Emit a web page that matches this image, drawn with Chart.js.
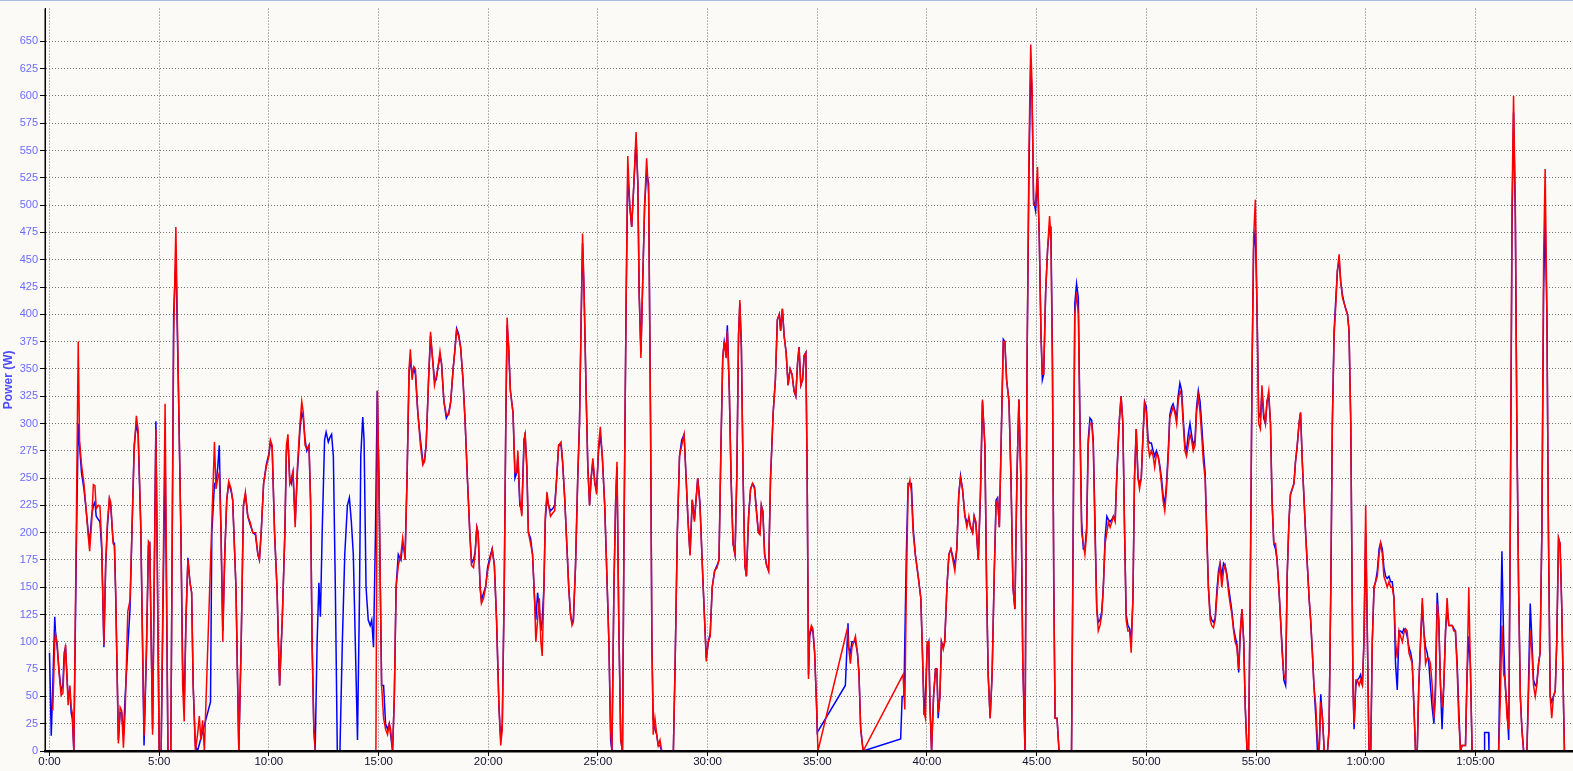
<!DOCTYPE html>
<html><head><meta charset="utf-8">
<script src="https://cdn.jsdelivr.net/npm/chart.js@4.4.1/dist/chart.umd.min.js"></script>
<style>
html,body{margin:0;padding:0;background:#FBFAF6;overflow:hidden;}
#wrap{position:relative;width:1573px;height:771px;}
#topline{position:absolute;left:0;top:0;width:1573px;height:1px;background:#A8BEDA;}
canvas{display:block;}
</style></head><body>
<div id="wrap"><canvas id="c" width="1573" height="771"></canvas><div id="topline"></div></div>
<script>
// elapsed time in minutes
const timeMin = [
0.00,0.08,0.15,0.24,0.27,0.35,0.43,0.53,0.61,0.67,
0.73,0.79,0.85,0.93,0.99,1.04,1.11,1.22,1.31,1.37,
1.46,1.57,1.65,1.77,1.83,1.92,2.00,2.07,2.13,2.23,
2.30,2.38,2.48,2.56,2.64,2.73,2.79,2.90,2.96,3.02,
3.14,3.22,3.29,3.37,3.45,3.57,3.67,3.86,3.96,4.04,
4.16,4.31,4.42,4.51,4.57,4.70,4.85,5.00,5.09,5.27,
5.40,5.53,5.66,5.76,5.88,5.99,6.07,6.14,6.22,6.31,
6.40,6.48,6.55,6.65,6.75,6.83,6.90,6.98,7.06,7.34,
7.40,7.52,7.59,7.67,7.74,7.82,7.90,7.99,8.08,8.17,
8.28,8.35,8.50,8.63,8.74,8.84,8.93,9.04,9.14,9.27,
9.39,9.50,9.57,9.65,9.76,9.88,10.00,10.07,10.15,10.26,
10.37,10.49,10.61,10.73,10.80,10.87,10.95,11.02,11.10,11.20,
11.30,11.42,11.50,11.57,11.65,11.73,11.83,11.90,11.97,12.05,
12.11,12.12,12.20,12.28,12.35,12.43,12.54,12.61,12.71,12.78,
12.86,12.94,13.03,13.12,13.24,13.35,13.46,13.58,13.67,13.76,
13.85,13.94,14.04,14.13,14.19,14.28,14.34,14.43,14.53,14.62,
14.69,14.77,14.86,14.88,14.94,14.95,15.02,15.05,15.08,15.14,
15.23,15.32,15.41,15.49,15.55,15.64,15.72,15.80,15.90,16.02,
16.10,16.21,16.30,16.39,16.45,16.53,16.61,16.68,16.79,16.91,
17.02,17.09,17.17,17.28,17.37,17.46,17.55,17.63,17.70,17.80,
17.87,17.98,18.09,18.20,18.29,18.40,18.47,18.56,18.65,18.74,
18.85,18.95,19.05,19.16,19.24,19.33,19.40,19.48,19.54,19.63,
19.69,19.79,19.88,19.97,20.08,20.18,20.28,20.38,20.49,20.57,
20.64,20.73,20.80,20.86,20.93,21.01,21.13,21.22,21.30,21.35,
21.44,21.53,21.63,21.68,21.76,21.83,21.93,22.02,22.11,22.17,
22.25,22.33,22.40,22.46,22.54,22.60,22.68,22.75,22.84,22.94,
23.03,23.12,23.21,23.32,23.39,23.49,23.58,23.67,23.75,23.82,
23.88,23.98,24.08,24.16,24.24,24.30,24.37,24.46,24.54,24.62,
24.69,24.77,24.86,24.94,25.03,25.11,25.20,25.31,25.41,25.50,
25.58,25.64,25.73,25.81,25.87,25.95,26.04,26.12,26.19,26.28,
26.36,26.45,26.54,26.64,26.74,26.82,26.88,26.96,27.03,27.13,
27.22,27.31,27.40,27.46,27.52,27.60,27.68,27.75,27.83,27.91,
28.44,28.52,28.62,28.72,28.82,28.93,29.02,29.11,29.20,29.30,
29.40,29.55,29.65,29.80,29.94,30.03,30.12,30.21,30.32,30.43,
30.52,30.61,30.69,30.76,30.84,30.90,30.99,31.07,31.16,31.25,
31.33,31.41,31.47,31.54,31.62,31.70,31.77,31.87,31.96,32.05,
32.14,32.23,32.31,32.39,32.45,32.52,32.60,32.69,32.78,32.87,
32.99,33.09,33.18,33.27,33.33,33.41,33.49,33.58,33.67,33.76,
33.85,33.94,34.02,34.10,34.17,34.25,34.33,34.40,34.48,34.54,
34.60,34.65,34.73,34.80,34.88,34.97,35.00,35.03,36.28,36.37,
36.40,36.43,36.51,36.58,36.67,36.74,36.83,36.90,36.98,37.09,
38.80,38.87,38.91,38.95,38.99,39.06,39.14,39.22,39.29,39.37,
39.47,39.60,39.72,39.78,39.87,39.93,40.01,40.08,40.14,40.21,
40.30,40.39,40.45,40.51,40.59,40.66,40.74,40.81,40.91,41.00,
41.09,41.18,41.27,41.36,41.45,41.53,41.62,41.73,41.82,41.91,
41.99,42.08,42.15,42.23,42.34,42.44,42.53,42.64,42.72,42.79,
42.88,42.97,43.07,43.15,43.22,43.30,43.40,43.48,43.55,43.63,
43.74,43.83,43.92,44.01,44.10,44.19,44.28,44.37,44.47,44.56,
44.65,44.73,44.79,44.86,44.95,45.04,45.12,45.20,45.26,45.32,
45.41,45.50,45.59,45.65,45.72,45.78,45.84,45.93,46.02,46.59,
46.67,46.74,46.82,46.90,46.97,47.05,47.13,47.20,47.28,47.35,
47.43,47.51,47.58,47.66,47.74,47.81,47.89,47.97,48.04,48.12,
48.20,48.27,48.35,48.43,48.50,48.58,48.65,48.76,48.85,48.93,
49.01,49.08,49.16,49.24,49.31,49.39,49.46,49.54,49.62,49.69,
49.77,49.85,49.92,50.00,50.08,50.15,50.23,50.31,50.38,50.46,
50.54,50.61,50.69,50.76,50.84,50.92,51.00,51.07,51.15,51.22,
51.30,51.38,51.45,51.53,51.61,51.68,51.76,51.83,51.91,51.99,
52.06,52.14,52.22,52.29,52.37,52.45,52.52,52.60,52.68,52.75,
52.83,52.91,52.98,53.06,53.14,53.21,53.29,53.36,53.44,53.52,
53.59,53.67,53.75,53.82,53.90,53.98,54.05,54.13,54.21,54.28,
54.36,54.44,54.51,54.59,54.66,54.74,54.82,54.89,54.97,55.05,
55.12,55.20,55.27,55.35,55.43,55.50,55.58,55.66,55.73,55.81,
55.89,55.96,56.04,56.12,56.19,56.27,56.35,56.42,56.50,56.57,
56.65,56.73,56.80,56.88,56.96,57.03,57.11,57.19,57.26,57.34,
57.42,57.49,57.57,57.64,57.73,57.80,57.88,57.95,58.03,58.11,
58.26,58.33,58.41,58.48,58.56,58.64,58.71,58.79,58.86,58.94,
59.02,59.09,59.17,59.24,59.32,59.36,59.42,59.47,59.55,59.62,
59.70,59.77,59.85,59.92,60.00,60.08,60.15,60.23,60.30,60.38,
60.45,60.53,60.61,60.68,60.76,60.83,60.91,60.98,61.06,61.14,
61.21,61.29,61.36,61.44,61.52,61.59,61.67,61.74,61.82,61.89,
61.97,62.05,62.12,62.20,62.27,62.35,62.42,62.50,62.58,62.65,
62.73,62.80,62.88,62.95,63.03,63.11,63.18,63.26,63.33,63.41,
63.48,63.56,63.64,63.71,63.79,63.86,63.94,64.02,64.09,64.17,
64.24,64.32,64.39,64.47,64.55,64.62,64.70,64.77,64.85,65.40,
65.42,65.60,65.62,66.06,66.14,66.21,66.29,66.36,66.44,66.52,
66.59,66.67,66.74,66.82,66.89,66.97,67.05,67.12,67.20,67.35,
67.42,67.50,67.58,67.65,67.73,67.80,67.88,67.95,68.03,68.11,
68.18,68.26,68.33,68.41,68.48,68.56,68.64,68.71,68.79,68.86,
68.94,69.02,69.06
];

// red trace, watts (null = no sample)
const powerRed = [
null,null,37,100,107,99,73,51,53,82,
97,71,42,60,40,35,0,200,375,284,
262,245,226,196,183,209,244,243,222,225,
224,190,97,170,209,232,228,190,188,144,
7,40,37,3,37,128,138,275,307,294,
209,14,95,192,190,15,295,0,0,318,
0,0,380,480,330,200,60,27,120,175,
155,145,60,0,15,32,10,28,0,null,
null,283,240,250,255,200,100,180,230,247,
240,230,150,0,100,225,237,215,210,200,
200,180,175,200,245,260,270,285,280,200,
150,60,120,200,280,290,245,250,256,205,
260,300,320,310,280,277,280,230,100,20,
null,0,null,null,null,null,null,null,null,null,
null,null,null,null,null,null,null,null,null,null,
null,null,null,null,null,null,null,null,null,null,
null,null,null,0,null,330,null,200,null,60,
30,20,15,25,20,0,50,150,170,180,
195,175,250,350,368,340,352,350,310,280,
262,265,280,340,384,360,335,343,350,366,
355,320,308,308,320,350,365,385,380,370,
340,300,250,200,170,168,180,205,200,150,
135,140,150,165,175,185,170,120,40,5,
20,150,300,397,370,330,310,255,255,275,
230,215,280,292,260,200,190,180,140,100,
120,140,100,87,150,215,237,225,215,218,
220,250,280,283,265,230,190,150,125,115,
118,170,250,300,400,474,420,330,260,225,
250,268,245,235,280,297,270,225,160,100,
20,0,150,230,265,120,10,0,200,400,
545,500,480,520,567,520,420,360,420,500,
543,510,300,100,15,30,15,5,10,0,
0,80,200,270,280,290,250,210,179,230,
210,250,225,150,82,100,105,150,165,168,
175,280,360,375,360,385,330,250,190,180,
250,380,413,370,250,170,160,215,240,245,
240,218,200,198,225,218,180,170,165,250,
310,340,395,400,385,405,380,365,335,350,
345,330,325,355,370,335,340,362,365,250,
66,108,115,112,90,40,null,0,null,112,
null,95,80,95,100,105,90,70,20,0,
null,null,70,null,38,150,240,248,237,200,
180,160,140,100,35,30,100,100,40,0,
50,75,75,35,50,100,93,100,150,180,
185,175,165,185,235,250,240,215,205,215,
205,200,215,210,175,240,322,280,150,70,
30,70,165,225,230,205,300,375,375,340,
320,250,150,130,250,322,250,80,0,350,
550,647,610,500,500,535,470,380,345,345,
420,460,490,470,350,150,30,30,0,0,
200,400,420,400,300,200,190,180,200,280,
300,300,280,200,130,110,115,125,150,190,
200,210,205,210,215,210,250,300,325,300,
200,120,110,110,90,140,250,295,250,240,
250,290,318,310,280,270,275,270,260,272,
270,260,245,230,220,240,270,305,310,315,
310,300,320,330,325,300,275,270,280,290,
285,275,280,310,325,310,290,265,250,200,
150,120,115,113,120,140,160,170,150,165,
170,160,145,135,125,110,100,95,75,110,
130,100,40,0,0,150,350,470,505,400,
300,295,335,310,300,320,330,300,230,190,
190,175,150,120,90,70,65,160,210,235,
240,245,265,280,300,310,265,230,200,170,
140,120,90,60,40,10,0,45,30,0,
0,20,150,300,380,410,440,455,430,415,
410,405,400,385,300,200,60,25,65,65,
60,65,60,100,225,100,0,0,100,150,
155,160,180,190,180,160,155,150,155,150,
150,140,100,85,110,105,100,108,112,110,
90,85,80,40,0,0,60,100,140,110,
80,85,85,80,60,30,50,135,120,60,
40,60,110,140,115,115,115,110,110,75,
30,0,5,5,5,70,150,80,0,0,
null,null,null,0,50,115,70,65,31,20,
200,500,600,500,300,150,50,20,0,0,
50,110,90,60,50,60,80,90,200,450,
533,400,200,50,30,50,55,100,195,190,
130,40,0
];

// blue trace, watts (null = no sample)
const powerBlue = [
90,14,60,123,110,95,75,55,60,90,
95,70,50,55,35,30,0,180,300,280,
255,240,225,200,190,215,225,228,215,212,
210,185,95,170,205,230,225,192,190,140,
10,35,35,15,50,95,130,280,300,290,
205,5,90,188,190,20,302,0,0,278,
0,0,400,453,330,200,80,40,120,177,
155,145,60,5,0,null,null,null,null,45,
200,245,245,260,280,200,110,180,230,245,
238,230,150,0,100,225,235,215,208,200,
198,180,175,200,245,262,272,283,278,200,
150,60,120,200,275,285,250,245,255,210,
255,295,310,305,285,275,280,230,100,20,
0,null,100,154,123,200,285,292,283,287,
290,270,150,0,0,100,180,225,232,210,
180,100,10,140,270,306,285,150,120,115,
120,95,200,null,330,null,250,null,150,60,
60,25,20,25,15,0,50,150,180,175,
190,180,250,345,360,345,350,345,310,285,
265,265,280,340,380,360,340,340,350,362,
355,320,305,310,320,350,365,387,382,370,
340,300,250,200,172,175,182,205,200,150,
138,145,150,168,178,185,170,120,40,10,
25,150,300,390,370,330,310,250,255,270,
225,220,285,290,260,200,195,180,140,120,
145,130,110,120,150,210,233,225,220,222,
225,250,280,280,265,230,190,150,125,118,
120,170,250,300,400,465,420,330,260,225,
250,265,245,240,275,290,270,225,160,100,
10,0,150,230,260,120,10,0,200,400,
530,500,480,520,560,520,420,365,420,500,
530,520,300,100,30,20,15,5,5,0,
0,80,200,270,285,290,250,210,180,230,
212,250,228,150,85,100,108,150,165,170,
175,280,360,375,365,390,330,250,190,180,
250,380,410,370,250,170,160,215,240,245,
242,220,202,200,225,220,180,170,165,250,
310,340,395,400,385,405,380,365,335,350,
345,330,325,355,370,335,340,362,365,250,
70,105,112,110,90,40,17,null,60,null,
117,95,90,100,100,100,90,72,20,0,
11,50,null,50,100,180,245,245,245,205,
180,160,140,100,33,50,95,100,40,0,
50,75,75,30,50,100,95,100,150,180,
185,178,170,185,235,252,240,215,210,212,
205,200,215,208,175,235,320,280,150,70,
30,70,165,230,232,205,300,377,375,340,
320,250,150,130,250,322,250,80,0,350,
530,630,600,505,495,525,470,380,340,345,
420,460,480,480,360,160,30,30,0,0,
220,410,428,415,310,210,185,185,205,285,
305,303,285,210,130,118,120,128,150,195,
215,212,210,212,215,212,250,300,325,300,
200,125,115,112,100,140,250,295,250,245,
250,290,320,315,285,282,282,275,270,275,
270,262,250,235,225,245,275,308,315,318,
312,305,325,337,330,305,280,275,290,300,
290,280,285,315,330,320,300,275,255,205,
150,125,120,118,122,145,165,172,160,172,
170,162,150,140,128,112,105,98,72,105,
130,100,40,0,0,150,350,460,478,400,
310,305,330,305,300,320,325,300,230,190,
185,175,150,120,95,65,60,160,210,235,
240,245,265,280,300,310,265,230,200,170,
140,120,90,60,30,0,0,52,30,0,
0,20,150,300,385,415,440,450,430,418,
410,405,400,385,300,200,60,20,60,65,
67,70,60,100,200,100,0,0,100,150,
155,165,185,191,185,168,160,158,160,155,
155,140,80,56,110,110,108,112,110,105,
95,90,82,40,0,0,60,100,135,110,
95,90,80,60,40,25,60,145,120,60,
20,60,110,130,115,115,115,112,110,80,
40,0,5,5,5,70,105,80,0,0,
17,17,0,0,100,183,100,60,40,10,
200,480,585,490,300,150,50,20,0,0,
60,135,100,65,60,62,80,90,200,420,
490,400,200,50,45,50,55,100,195,190,
130,40,0
];

const yTickValues = [0,25,50,75,100,125,150,175,200,225,250,275,300,325,350,375,400,425,450,475,500,525,550,575,600,625,650];
const xTickMinutes = [0,5,10,15,20,25,30,35,40,45,50,55,60,65];
const xTickLabels = ['0:00','5:00','10:00','15:00','20:00','25:00','30:00','35:00','40:00','45:00','50:00','55:00','1:00:00','1:05:00'];

function seriesPoints(values){
  const pts = [];
  const n = Math.min(timeMin.length, values.length);
  for (let i = 0; i < n; i++) {
    if (values[i] !== null && values[i] !== undefined) pts.push({x: timeMin[i], y: values[i]});
  }
  return pts;
}

const axisOverlay = {
  id: 'axisOverlay',
  afterDatasetsDraw(chart) {
    const {ctx, chartArea: a} = chart;
    ctx.save();
    ctx.strokeStyle = '#000';
    ctx.lineWidth = 2.5;
    ctx.beginPath();
    ctx.moveTo(a.left - 1, a.bottom + 0.25);
    ctx.lineTo(a.right, a.bottom + 0.25);
    ctx.stroke();
    ctx.lineWidth = 1.5;
    ctx.beginPath();
    ctx.moveTo(a.left + 0.25, a.top);
    ctx.lineTo(a.left + 0.25, a.bottom);
    ctx.stroke();
    ctx.restore();
  }
};

Chart.defaults.font.family = "'Liberation Sans', Arial, sans-serif";

new Chart(document.getElementById('c'), {
  type: 'line',
  data: {
    datasets: [
      {label: 'red', data: seriesPoints(powerRed), borderColor: '#FF0000', borderWidth: 1.5, pointRadius: 0, tension: 0, fill: false, spanGaps: true},
      {label: 'blue', data: seriesPoints(powerBlue), borderColor: '#0000FF', borderWidth: 1.5, pointRadius: 0, tension: 0, fill: false, spanGaps: true}
    ]
  },
  options: {
    responsive: false,
    animation: false,
    events: [],
    layout: {padding: {left: 0, right: 0, top: 5, bottom: 0}},
    plugins: {legend: {display: false}, tooltip: {enabled: false}},
    scales: {
      x: {
        type: 'linear', min: -0.205, max: 69.45,
        afterBuildTicks: s => { s.ticks = xTickMinutes.map(v => ({value: v})); },
        afterFit: s => { s.height = 20; },
        ticks: {
          callback: v => xTickLabels[xTickMinutes.indexOf(v)],
          color: '#101030', font: {size: 11.5}, padding: -1, maxRotation: 0, autoSkip: false
        },
        grid: {color: '#737373', lineWidth: 1, tickLength: 5, tickColor: '#000'},
        border: {display: true, color: '#000', width: 2, dash: [1, 2]}
      },
      y: {
        min: 0, max: 680,
        afterBuildTicks: s => { s.ticks = yTickValues.map(v => ({value: v})); },
        afterFit: s => { s.width = 45; },
        ticks: {color: '#6B6BFF', font: {size: 11}, padding: 2, autoSkip: false},
        grid: {color: '#737373', lineWidth: 1, tickLength: 5, tickColor: '#000'},
        border: {display: true, color: '#000', width: 1, dash: [1, 2]},
        title: {display: true, text: 'Power (W)', color: '#4B4BFF', font: {size: 12, weight: 'bold'}, padding: {top: 1, bottom: 0}}
      }
    }
  },
  plugins: [axisOverlay]
});
</script>
</body></html>
